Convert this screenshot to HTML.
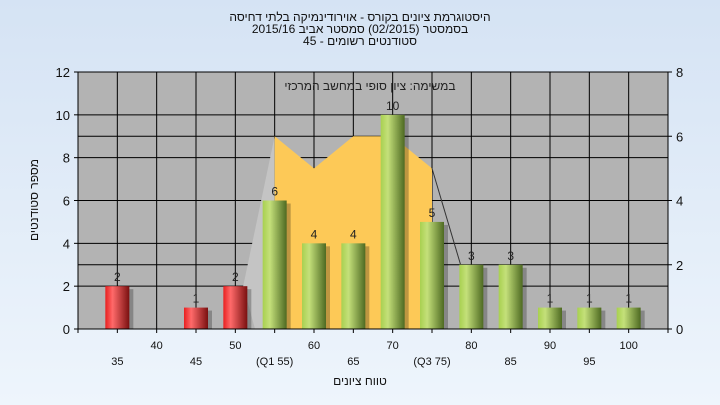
<!DOCTYPE html>
<html><head><meta charset="utf-8"><style>
html,body{margin:0;padding:0;width:720px;height:405px;overflow:hidden;}
body{background:linear-gradient(#d5e3f4,#eef5fc);font-family:"Liberation Sans","Noto Sans CJK SC",sans-serif;}
text{font-family:"Liberation Sans","Noto Sans CJK SC",sans-serif;}
</style></head><body>
<svg id="chart" width="720" height="405" xmlns="http://www.w3.org/2000/svg">
<defs>
<linearGradient id="gG" x1="0" x2="1"><stop offset="0" stop-color="#a8d050"/><stop offset="0.3" stop-color="#c4e07a"/><stop offset="1" stop-color="#4e6a22"/></linearGradient>
<linearGradient id="gR" x1="0" x2="1"><stop offset="0" stop-color="#e82020"/><stop offset="0.3" stop-color="#ff6a6a"/><stop offset="1" stop-color="#7a1010"/></linearGradient>
</defs>
<g font-size="12" fill="#111" text-anchor="middle">
<text x="360" y="21" direction="rtl">היסטוגרמת ציונים בקורס - אוירודינמיקה בלתי דחיסה</text>
<text x="360" y="33" direction="rtl">בסמסטר  (02/2015)  סמסטר אביב 2015/16</text>
<text x="360" y="45" direction="rtl">סטודנטים רשומים - 45</text>
</g>
<rect x="78" y="72" width="590" height="257" fill="#b3b3b3"/>
<g id="grid"></g><g id="series"></g><g id="axes"></g>
<text x="370" y="90" font-size="12" text-anchor="middle" fill="#222" direction="rtl">במשימה: ציון סופי במחשב המרכזי</text>
<text x="360" y="385" font-size="12" text-anchor="middle" fill="#111" direction="rtl">טווח ציונים</text>
<text transform="translate(38,200) rotate(-90)" font-size="12" text-anchor="middle" fill="#111" direction="rtl">מספר סטודנטים</text>
</svg>
<script>
const categories=[35,40,45,50,55,60,65,70,75,80,85,90,95,100];
const counts=[2,0,1,2,6,4,4,10,5,3,3,1,1,1];
const failFlags=[1,1,1,1,0,0,0,0,0,0,0,0,0,0];
const areaX=[55,60,65,70,75];
const areaY=[6,5,6,6,5];
const leftTicks=[0,2,4,6,8,10,12];
const rightTicks=[0,2,4,6,8];
const topLabels=[40,50,60,70,80,90,100];
const bottomLabels=["35","45","(Q1 55)","65","(Q3 75)","85","95"];
const bottomPos=[35,45,55,65,75,85,95];
const X0=78,X1=668,Y0=329,Y1=72;
const xs=v=>X0+(v-30)/(105-30)*(X1-X0);
const yl=v=>Y0-v/12*(Y0-Y1);
const yr=v=>Y0-v/8*(Y0-Y1);
const NS="http://www.w3.org/2000/svg";
function mk(p,t,a){const e=document.createElementNS(NS,t);for(const k in a)e.setAttribute(k,a[k]);p.appendChild(e);return e;}
const grid=document.getElementById('grid'),ser=document.getElementById('series'),ax=document.getElementById('axes');
leftTicks.forEach(t=>{const l=mk(grid,'line',{x1:X0,x2:X1,y1:yl(t),y2:yl(t),stroke:'#000','stroke-width':1});


const tx=mk(ax,'text',{x:X0-8,y:yl(t)+5,'font-size':13,'text-anchor':'end',fill:'#111'});tx.textContent=t;


mk(ax,'line',{x1:X0-4,x2:X0,y1:yl(t),y2:yl(t),stroke:'#000'});});
rightTicks.forEach(t=>{const l=mk(grid,'line',{x1:X0,x2:X1,y1:yr(t),y2:yr(t),stroke:'#000','stroke-width':1});


const tx=mk(ax,'text',{x:X1+8,y:yr(t)+5,'font-size':13,fill:'#111'});tx.textContent=t;


mk(ax,'line',{x1:X1,x2:X1+4,y1:yr(t),y2:yr(t),stroke:'#000'});});
categories.concat([105]).forEach(c=>{mk(grid,'line',{x1:xs(c),x2:xs(c),y1:Y1,y2:Y0,stroke:'#000'});mk(ax,'line',{x1:xs(c),x2:xs(c),y1:Y0,y2:Y0+4,stroke:'#000'});});
mk(grid,'line',{x1:X0,x2:X0,y1:Y1,y2:Y0+4,stroke:'#000'});
// gray wedge + area
const gw=mk(ser,'polygon',{points:`${xs(51)},${yl(2)} ${xs(55)},${yr(areaY[0])} ${xs(55)},${Y0} ${xs(52.5)},${Y0}`,fill:'#c4c4c4'});


let pts=areaX.map((x,i)=>`${xs(x)},${yr(areaY[i])}`).join(' ');
pts+=` ${xs(areaX[areaX.length-1])},${Y0} ${xs(areaX[0])},${Y0}`;
const ar=mk(ser,'polygon',{points:pts,fill:'#fdc957'});


const tl=mk(ser,'line',{x1:xs(75),y1:yr(5),x2:xs(79),y2:yr(1.7),stroke:'#333','stroke-width':1});


categories.forEach((c,i)=>{const v=counts[i];if(!v)return;const w=24,x=xs(c)-w/2;
mk(ser,'rect',{x:x+4,y:yl(v)+3,width:w,height:Y0-yl(v)-3,fill:'#000',opacity:0.25});
const r=mk(ser,'rect',{x:x,y:yl(v),width:w,height:Y0-yl(v),fill:failFlags[i]?'url(#gR)':'url(#gG)'});


const t=mk(ser,'text',{x:xs(c),y:yl(v)-5,'font-size':12,'text-anchor':'middle',fill:'#222'});t.textContent=v;

});
mk(ax,'line',{x1:X0,x2:X1,y1:Y0,y2:Y0,stroke:'#000'});
topLabels.forEach(c=>{const t=mk(ax,'text',{x:xs(c),y:349,'font-size':11,'text-anchor':'middle',fill:'#111'});t.textContent=c;

});
bottomLabels.forEach((s,i)=>{const t=mk(ax,'text',{x:xs(bottomPos[i]),y:365,'font-size':11,'text-anchor':'middle',fill:'#111'});t.textContent=s;

});
</script>
</body></html>
